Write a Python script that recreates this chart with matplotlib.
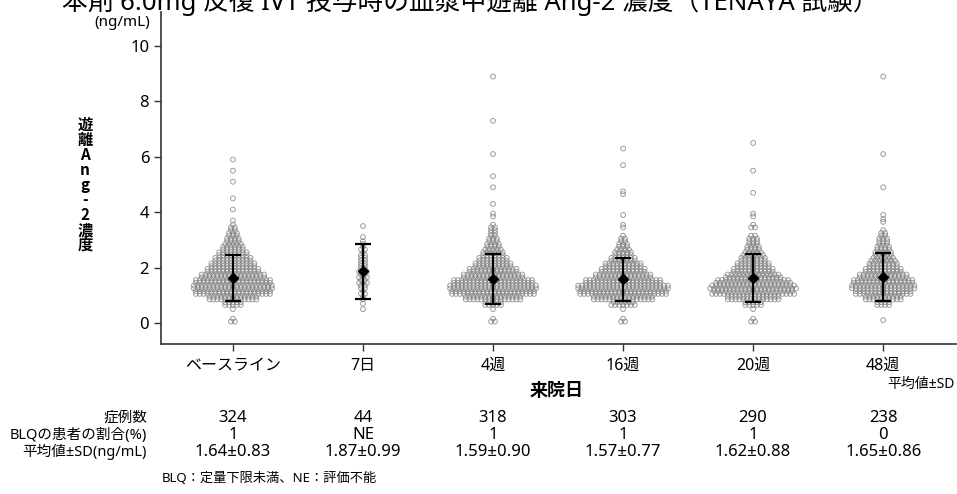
import numpy as np
import matplotlib
matplotlib.use("Agg")
import matplotlib.pyplot as plt
from matplotlib.transforms import blended_transform_factory

plt.rcParams["font.family"] = ["Noto Sans", "Noto Sans CJK JP", "DejaVu Sans"]

W, H = 957, 494

title = "本剤 6.0mg 反復 IVT 投与時の血漿中遊離 Ang-2 濃度（TENAYA 試験）"
visits = ["ベースライン", "7日", "4週", "16週", "20週", "48週"]
n_cases = [324, 44, 318, 303, 290, 238]
blq_pct = ["1", "NE", "1", "1", "1", "0"]
means = [1.64, 1.87, 1.59, 1.57, 1.62, 1.65]
sds = [0.83, 0.99, 0.90, 0.77, 0.88, 0.86]

# 個別値: 0.2 ng/mL 刻みの階級中央値 (ng/mL) と症例数
base_bins = [0.1, 0.5, 0.7, 0.9, 1.1, 1.3, 1.5, 1.7, 1.9, 2.1, 2.3, 2.5, 2.7,
             2.9, 3.1, 3.3, 3.5, 3.7, 4.1, 4.5, 5.1, 5.5, 5.9]
base_counts = [3, 1, 10, 26, 40, 42, 40, 34, 28, 24, 20, 16, 12,
               9, 7, 5, 3, 1, 1, 1, 1, 1, 1]

d7_bins = [0.5, 0.7, 0.9, 1.1, 1.3, 1.5, 1.7, 1.9, 2.1, 2.3, 2.5, 2.7, 2.9, 3.1, 3.5]
d7_counts = [1, 1, 2, 3, 4, 5, 5, 5, 4, 4, 3, 3, 2, 1, 1]

w4_bins = [0.1, 0.5, 0.7, 0.9, 1.1, 1.3, 1.5, 1.7, 1.9, 2.1, 2.3, 2.5, 2.7,
           2.9, 3.1, 3.3, 3.5, 3.9, 4.3, 4.9, 5.3, 6.1, 7.3, 8.9]
w4_counts = [3, 1, 10, 30, 44, 46, 42, 32, 26, 20, 16, 12, 9,
             7, 5, 4, 3, 2, 1, 1, 1, 1, 1, 1]

w16_bins = [0.1, 0.5, 0.7, 0.9, 1.1, 1.3, 1.5, 1.7, 1.9, 2.1, 2.3, 2.5, 2.7,
            2.9, 3.1, 3.5, 3.9, 4.7, 5.7, 6.3]
w16_counts = [3, 1, 13, 32, 46, 48, 40, 30, 24, 20, 14, 10, 7,
              5, 3, 2, 1, 2, 1, 1]

w20_bins = [0.1, 0.5, 0.7, 0.9, 1.1, 1.3, 1.5, 1.7, 1.9, 2.1, 2.3, 2.5, 2.7,
            2.9, 3.1, 3.5, 3.9, 4.7, 5.5, 6.5]
w20_counts = [3, 1, 10, 28, 43, 45, 39, 29, 22, 18, 14, 11, 8,
              6, 5, 3, 2, 1, 1, 1]

w48_bins = [0.1, 0.7, 0.9, 1.1, 1.3, 1.5, 1.7, 1.9, 2.1, 2.3, 2.5, 2.7, 2.9,
            3.1, 3.3, 3.7, 3.9, 4.9, 6.1, 8.9]
w48_counts = [1, 8, 20, 30, 34, 32, 26, 20, 16, 13, 10, 8, 6,
              5, 3, 2, 1, 1, 1, 1]

groups = [(base_bins, base_counts), (d7_bins, d7_counts), (w4_bins, w4_counts),
          (w16_bins, w16_counts), (w20_bins, w20_counts), (w48_bins, w48_counts)]


def fy(py):
    return 1 - py / H


def swarm_xy(center, bins, counts, dx=0.03, sub=0.1):
    # 各階級を上下2段に分け、段ごとに横に並べる
    xs, ys = [], []
    for v, c in zip(bins, counts):
        if c == 1:
            rows = [(v, 1)]
        else:
            rows = [(v - sub / 2, c - c // 2), (v + sub / 2, c // 2)]
        for y, m in rows:
            off = np.arange(m) - (m - 1) / 2
            xs.extend(center + off * dx)
            ys.extend([y] * m)
    return np.array(xs), np.array(ys)


fig = plt.figure(figsize=(W / 100, H / 100), dpi=100)
ax = fig.add_axes([161 / W, fy(344), (956 - 161) / W, (344 - 12) / H])

x = np.arange(len(visits))
for i, (bins, counts) in enumerate(groups):
    sx, sy = swarm_xy(x[i], bins, counts)
    ax.scatter(sx, sy, s=12, facecolors="none", edgecolors="#858585",
               linewidths=0.65, alpha=0.85, zorder=2)

ax.errorbar(x, means, yerr=sds, fmt="D", color="black", ms=5,
            capsize=6, elinewidth=1.6, capthick=1.6, zorder=5)

ax.set_xlim(-0.553, 5.56)
ax.set_ylim(-0.76, 11.23)
ax.set_yticks([0, 2, 4, 6, 8, 10])
ax.set_xticks(x)
ax.set_xticklabels(visits)
ax.tick_params(axis="both", direction="out", length=5, width=1,
               color="#333333", labelsize=12)
ax.tick_params(axis="x", labelsize=11.5, pad=5)
for side in ["top", "right"]:
    ax.spines[side].set_visible(False)
for side in ["left", "bottom"]:
    ax.spines[side].set_linewidth(1.2)
    ax.spines[side].set_color("#333333")

# タイトル（図の上端で切れる）
fig.text(62 / W, fy(10), title, fontsize=18.5, ha="left", va="baseline")

fig.text(150 / W, fy(22), "(ng/mL)", fontsize=11, ha="right", va="center")

# 縦書きの軸ラベル
ylab = "遊離Ang-2濃度"
for k, ch in enumerate(ylab):
    fig.text(85 / W, fy(125 + k * 15), ch, fontsize=11, fontweight="bold",
             family=["Noto Sans CJK JP"], ha="center", va="center")

fig.text(557 / W, fy(390), "来院日", fontsize=13, fontweight="bold",
         family=["Noto Sans CJK JP"], ha="center", va="center")
fig.text(955 / W, fy(384), "平均値±SD", fontsize=10, ha="right", va="center")

# 症例数などの表
tr = blended_transform_factory(ax.transData, fig.transFigure)
row_labels = ["症例数", "BLQの患者の割合(%)", "平均値±SD(ng/mL)"]
row_y = [418, 435, 452]
for lab, py in zip(row_labels, row_y):
    fig.text(147 / W, fy(py), lab, fontsize=10.5, ha="right", va="center")
for i in range(len(visits)):
    ax.text(x[i], fy(row_y[0]), str(n_cases[i]), transform=tr, fontsize=12,
            ha="center", va="center")
    ax.text(x[i], fy(row_y[1]), blq_pct[i], transform=tr, fontsize=12,
            ha="center", va="center")
    ax.text(x[i], fy(row_y[2]), f"{means[i]:.2f}±{sds[i]:.2f}", transform=tr,
            fontsize=12, ha="center", va="center")

fig.text(162 / W, fy(478), "BLQ：定量下限未満、NE：評価不能", fontsize=9.5,
         ha="left", va="center")

fig.savefig("out.png", dpi=100)
